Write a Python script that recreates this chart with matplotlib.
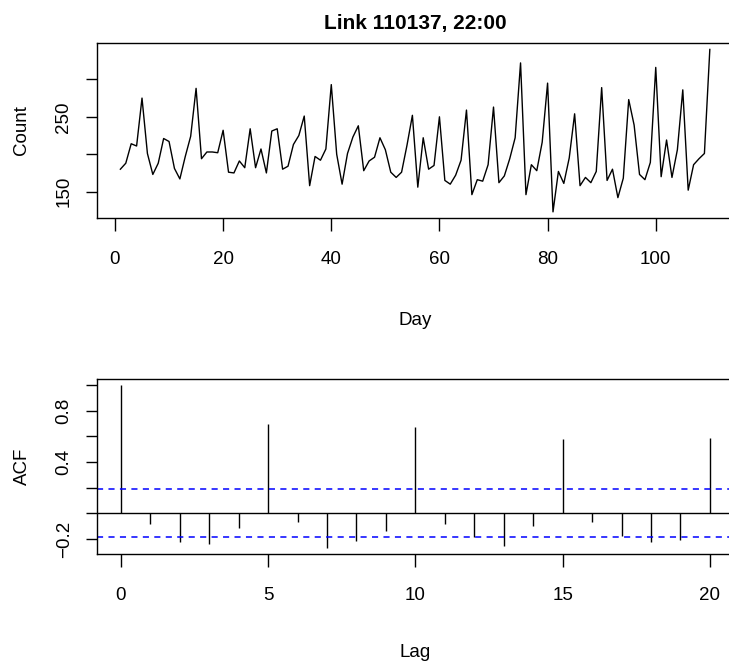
# Daily counts for link 110137 at 22:00 and their autocorrelation
import numpy as np
import matplotlib
matplotlib.use("Agg")
import matplotlib.pyplot as plt

plt.rcParams["font.family"] = ["Liberation Sans", "DejaVu Sans"]

# ==========================================
# Data
# ==========================================

days = np.arange(1, 111)

counts = [
    180, 188, 214, 211, 275, 201, 173, 188, 221, 217,
    181, 167, 197, 224, 288, 194, 203, 203, 202, 232,
    176, 175, 191, 182, 234, 182, 207, 175, 231, 234,
    180, 184, 213, 225, 251, 158, 197, 192, 207, 293,
    200, 160, 201, 223, 238, 178, 191, 196, 222, 206,
    176, 169, 176, 212, 252, 156, 222, 180, 185, 250,
    165, 160, 172, 192, 259, 146, 166, 164, 186, 263,
    162, 171, 194, 222, 322, 146, 186, 178, 216, 295,
    123, 177, 161, 195, 254, 158, 169, 162, 177, 289,
    165, 180, 142, 168, 273, 239, 173, 166, 189, 316,
    170, 219, 169, 206, 286, 152, 186, 194, 201, 340,
]

lags = np.arange(0, 21)

acf_vals = [
    1.000, -0.086, -0.221, -0.241, -0.114, 0.695, -0.070, -0.268, -0.216, -0.138,
    0.674, -0.086, -0.182, -0.252, -0.099, 0.576, -0.068, -0.174, -0.221, -0.205,
    0.591,
]

conf = 1.96 / np.sqrt(len(counts))

count_ticks = [150, 200, 250, 300]
count_labels = ["150", "", "250", ""]
acf_ticks = [-0.2, 0.0, 0.2, 0.4, 0.6, 0.8, 1.0]
acf_labels = ["\u22120.2", "", "", "0.4", "", "0.8", ""]

# ==========================================
# Figure
# ==========================================

W, H = 729, 666
FS = 13.5
fig = plt.figure(figsize=(W / 100, H / 100), dpi=100)


def px_axes(left, top, right, bottom):
    return fig.add_axes([left / W, 1 - bottom / H, (right - left) / W, (bottom - top) / H])


def r_style(ax):
    for s in ax.spines.values():
        s.set_linewidth(1.0)
        s.set_color("black")
    ax.tick_params(axis="x", direction="out", length=9.5, width=1.0,
                   labelsize=FS, pad=14)
    ax.tick_params(axis="y", direction="out", length=7.7, width=1.0,
                   labelsize=FS, pad=10)
    for lab in ax.get_yticklabels():
        lab.set_rotation(90)
        lab.set_va("center")


# ---- time series ----
ax1 = px_axes(96.8, 43, 733.4, 218)
ax1.plot(days, counts, color="black", lw=1.0)
ax1.set_xlim(-3.36, 114.36)
ax1.set_ylim(114.8, 348.6)
ax1.set_xticks([0, 20, 40, 60, 80, 100])
ax1.set_yticks(count_ticks)
ax1.set_yticklabels(count_labels)
r_style(ax1)
ax1.set_xlabel("Day", fontsize=FS, labelpad=32)
ax1.set_ylabel("Count", fontsize=FS, labelpad=18)
ax1.set_title("Link 110137, 22:00", fontsize=15, fontweight="bold", pad=10)

# ---- ACF ----
ax2 = px_axes(97.2, 378.5, 733.5, 554.3)
ax2.vlines(lags, 0, acf_vals, color="black", lw=1.0)
ax2.axhline(0, color="black", lw=1.0)
ax2.axhline(conf, color="#0000ff", lw=1.1, dashes=(4, 3.5))
ax2.axhline(-conf, color="#0000ff", lw=1.1, dashes=(4, 3.5))
ax2.set_xlim(-0.8, 20.8)
ax2.set_ylim(-0.319, 1.051)
ax2.set_xticks([0, 5, 10, 15, 20])
ax2.set_yticks(acf_ticks)
ax2.set_yticklabels(acf_labels)
r_style(ax2)
ax2.set_xlabel("Lag", fontsize=FS, labelpad=29)
ax2.set_ylabel("ACF", fontsize=FS, labelpad=18)

fig.savefig("out.png", dpi=100)
